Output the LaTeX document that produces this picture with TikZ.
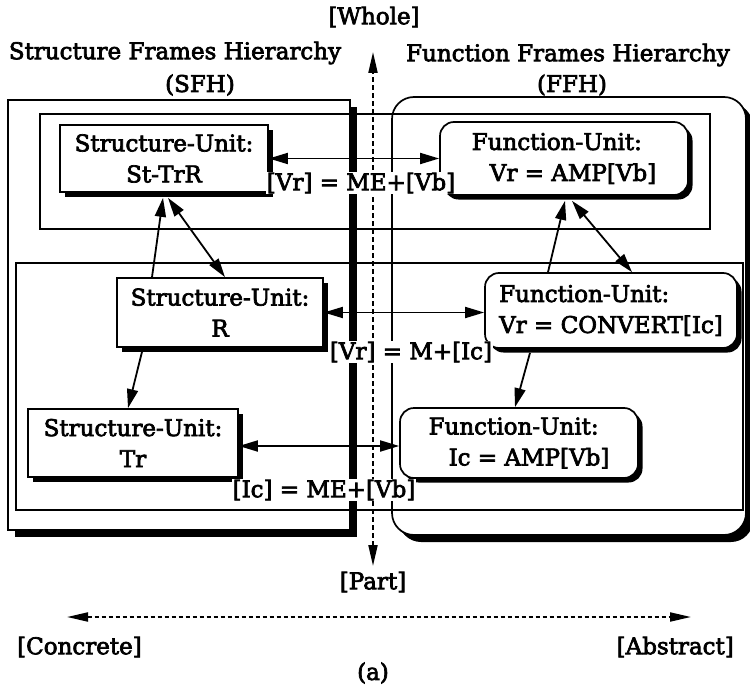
\documentclass[tikz,border=0pt]{standalone}
\usepackage{fontspec}
\setmainfont{DejaVu Serif}[FakeBold=3]
\usetikzlibrary{arrows.meta,shadows}

\begin{document}
\begin{tikzpicture}[x=1pt,y=-1pt,
  font=\fontsize{23}{31}\selectfont,
  tip/.tip={Triangle[length=19pt,width=11pt]},
  hierbox/.style={draw, line width=1.7pt, fill=white, inner sep=0pt,
    drop shadow={shadow xshift=7pt, shadow yshift=-7pt, opacity=1, fill=black}},
  levelframe/.style={draw, line width=1.5pt, inner sep=0pt},
  unitbox/.style={draw, line width=1.7pt, fill=white, inner sep=3pt, align=center,
    drop shadow={shadow xshift=4.5pt, shadow yshift=-4.5pt, opacity=1, fill=black}},
  funcbox/.style={unitbox, rounded corners=14pt, align=left},
  link/.style={line width=1.8pt, -tip},
  dlink/.style={line width=1.8pt, tip-tip},
  relabel/.style={fill=white, inner sep=1pt},
  axis/.style={line width=2pt, dash pattern=on 5pt off 3pt,
    {Triangle[length=21pt,width=9pt]}-{Triangle[length=21pt,width=9pt]}},
  plain/.style={inner sep=0pt}
]
\useasboundingbox (0,0) rectangle (750,685);
\fill[white] (0,0) rectangle (750,685);

% the two hierarchies
\node[hierbox, minimum width=342pt, minimum height=430pt] (sfh) at (179,315) {};
\node[hierbox, rounded corners=22pt, minimum width=354pt, minimum height=438pt,
  drop shadow={shadow xshift=6pt, shadow yshift=-6pt, opacity=1, fill=black}] (ffh) at (569,316) {};

% the two levels of the whole/part axis
\node[levelframe, minimum width=670pt, minimum height=115pt] (topframe) at (375,171.5) {};
\node[levelframe, minimum width=727pt, minimum height=247pt] (lowframe) at (379.5,386.5) {};

% titles and axis labels
\node[plain] (whole) at (374,17) {[Whole]};
\node[plain] (sfhtitle) at (175,53) {Structure Frames Hierarchy};
\node[plain] (sfhabbr) at (200,85) {(SFH)};
\node[plain, anchor=east] (ffhtitle) at (730,55) {Function Frames Hierarchy};
\node[plain] (ffhabbr) at (572,85) {(FFH)};
\node[plain] (part) at (373,582) {[Part]};
\node[plain, anchor=west] (concrete) at (17,647) {[Concrete]};
\node[plain, anchor=east] (abstract) at (734,647) {[Abstract]};
\node[plain] (caption) at (373,673) {(a)};

% whole/part and concrete/abstract axes
\coordinate (vtop) at (373,52);
\coordinate (vbot) at (373,566);
\draw[axis] (vbot) -- (vtop);
\coordinate (hleft) at (67,617);
\coordinate (hright) at (691,617);
\draw[axis, dash pattern=on 4pt off 3pt] (hleft) -- (hright);

% structure units
\node[unitbox, minimum width=208pt, minimum height=67pt] (st) at (164,158.5)
  {Structure-Unit:\\St-TrR};
\node[unitbox, minimum width=206pt, minimum height=69pt] (r) at (220,312.5)
  {Structure-Unit:\\R};
\node[unitbox, minimum width=210pt, minimum height=68pt] (tr) at (133,443)
  {Structure-Unit:\\Tr};

% function units
\node[funcbox, minimum width=248pt, minimum height=73pt] (famp) at (564,158.5)
  {Function-Unit:\\\hspace*{18pt}Vr = AMP[Vb]};
\node[funcbox, minimum width=252pt, minimum height=75pt] (conv) at (611,310.5)
  {Function-Unit:\\Vr = CONVERT[Ic]};
\node[funcbox, minimum width=238pt, minimum height=70pt] (iamp) at (519,443)
  {Function-Unit:\\\hspace*{20pt}Ic = AMP[Vb]};

% structure-function correspondences
\draw[dlink] (st.east) -- (famp.west);
\draw[dlink] (r.east) -- (r.east -| conv.west);
\draw[dlink] ([yshift=-3pt]tr.east) -- ([yshift=-3pt]iamp.west);

% part-of links inside each hierarchy
\draw[link] ([xshift=-68pt]r.north) -- ([xshift=-1pt,yshift=-5pt]st.south);
\draw[dlink] ([xshift=4pt,yshift=-5pt]st.south) -- ([xshift=5pt]r.north);
\draw[link] ([xshift=-78pt,yshift=-4pt]r.south) -- ([xshift=-5pt]tr.north);
\draw[link] ([xshift=-63pt]conv.north) -- ([xshift=1pt,yshift=-5pt]famp.south);
\draw[dlink] ([xshift=8pt,yshift=-5pt]famp.south) -- ([xshift=21pt]conv.north);
\draw[link] ([xshift=-81pt,yshift=-4pt]conv.south) -- ([xshift=-4pt]iamp.north);

% relation labels
\node[relabel] (rel1) at (361,183) {[Vr] = ME+[Vb]};
\node[relabel] (rel2) at (411,352) {[Vr] = M+[Ic]};
\node[relabel] (rel3) at (324,490) {[Ic] = ME+[Vb]};
\end{tikzpicture}
\end{document}
